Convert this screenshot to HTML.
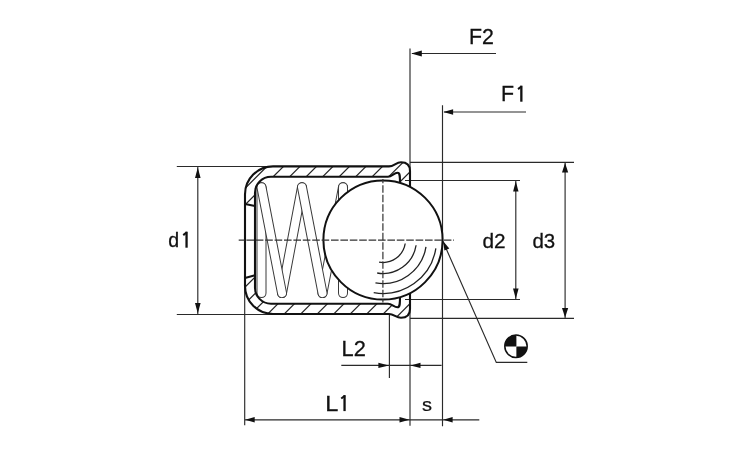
<!DOCTYPE html>
<html><head><meta charset="utf-8"><style>
html,body{margin:0;padding:0;background:#fff;}
svg{display:block;}
text{will-change:transform;}
text{font-family:"Liberation Sans",sans-serif;font-size:100px;fill:#111;stroke:#111;stroke-width:1.3px;}
</style></head><body>
<svg width="750" height="450" viewBox="0 0 750 450">
<defs>
<clipPath id="ct"><path d="M245,204 L245,194.4 A28,28 0 0 1 273,166.4 L389,166.4 C394,166.4 396,162.2 401,162.2 Q410,162.2 410,171 L410,187 A59.6,59.6 0 0 0 400,183 C400,176 400,172.8 397.5,172.8 C394,172.8 392,176.7 388,176.7 L271,176.7 A16,16 0 0 0 255,192.7 L255,206 Z"/></clipPath>
<clipPath id="cb"><path d="M245,278 L245,286 A28,28 0 0 0 273,314 L389,314 C394,314 396,317.8 401,317.8 Q410,317.8 410,309 L410,293 A59.6,59.6 0 0 1 400,297 C400,304 400,307.2 397.5,307.2 C394,307.2 392,303.7 388,303.7 L271,303.7 A16,16 0 0 1 255,287.3 L255,275.3 Z"/></clipPath>
</defs>
<rect width="750" height="450" fill="#fff"/>
<g stroke="#2a2a2a" stroke-width="1.15" fill="none">
<line x1="410.0" y1="48.6" x2="410.0" y2="171"/>
<line x1="410.0" y1="309" x2="410.0" y2="425.8"/>
<line x1="442.5" y1="105.3" x2="442.5" y2="426.2"/>
<line x1="412" y1="53.5" x2="496" y2="53.5"/>
<line x1="444" y1="112.0" x2="526" y2="112.0"/>
<line x1="176.8" y1="166.5" x2="272" y2="166.5"/>
<line x1="176.8" y1="314.5" x2="389.4" y2="314.5"/>
<line x1="197.8" y1="167" x2="197.8" y2="314"/>
<line x1="410" y1="162.4" x2="574" y2="162.4"/>
<line x1="410" y1="318.4" x2="574" y2="318.4"/>
<line x1="565.1" y1="163" x2="565.1" y2="318"/>
<line x1="405" y1="180.5" x2="520" y2="180.5"/>
<line x1="405" y1="299.5" x2="520" y2="299.5"/>
<line x1="515.8" y1="181" x2="515.8" y2="299"/>
<line x1="244.7" y1="286" x2="244.7" y2="425.3"/>
<line x1="389.4" y1="314" x2="389.4" y2="378"/>
<line x1="341.3" y1="365.4" x2="441.6" y2="365.4"/>
<line x1="245" y1="419.8" x2="479.3" y2="419.8"/>
<polyline points="442.9,241.3 496.3,362.4 527.3,362.4"/>
</g>
<g fill="#111" stroke="none"><path d="M411.2,53.5 L421.80,56.40 L421.80,50.60 Z"/><path d="M443.3,112.0 L453.10,114.70 L453.10,109.30 Z"/><path d="M197.8,167.5 L195.00,178.00 L200.60,178.00 Z"/><path d="M197.8,313.5 L200.60,303.00 L195.00,303.00 Z"/><path d="M515.8,181.3 L513.10,191.60 L518.50,191.60 Z"/><path d="M515.8,298.8 L518.60,288.50 L513.00,288.50 Z"/><path d="M565.1,163.0 L562.00,172.60 L568.20,172.60 Z"/><path d="M565.1,317.6 L568.20,308.00 L562.00,308.00 Z"/><path d="M388.9,365.4 L378.40,362.70 L378.40,368.10 Z"/><path d="M410.5,365.4 L420.50,368.10 L420.50,362.70 Z"/><path d="M245.2,419.8 L254.70,422.60 L254.70,417.00 Z"/><path d="M409.5,419.8 L399.50,417.00 L399.50,422.60 Z"/><path d="M443.3,419.8 L452.60,422.60 L452.60,417.00 Z"/><path d="M443.2,241.3 L444.36,250.62 L449.30,248.45 Z"/></g>
<g stroke="#222" stroke-width="1.2">
<g clip-path="url(#ct)"><line x1="93.40" y1="340" x2="293.40" y2="140"/><line x1="109.90" y1="340" x2="309.90" y2="140"/><line x1="126.40" y1="340" x2="326.40" y2="140"/><line x1="142.90" y1="340" x2="342.90" y2="140"/><line x1="159.40" y1="340" x2="359.40" y2="140"/><line x1="175.90" y1="340" x2="375.90" y2="140"/><line x1="192.40" y1="340" x2="392.40" y2="140"/><line x1="208.90" y1="340" x2="408.90" y2="140"/><line x1="225.40" y1="340" x2="425.40" y2="140"/><line x1="241.90" y1="340" x2="441.90" y2="140"/><line x1="258.40" y1="340" x2="458.40" y2="140"/></g>
<g clip-path="url(#cb)"><line x1="373.70" y1="340" x2="573.70" y2="140"/><line x1="357.20" y1="340" x2="557.20" y2="140"/><line x1="340.70" y1="340" x2="540.70" y2="140"/><line x1="324.20" y1="340" x2="524.20" y2="140"/><line x1="307.70" y1="340" x2="507.70" y2="140"/><line x1="291.20" y1="340" x2="491.20" y2="140"/><line x1="274.70" y1="340" x2="474.70" y2="140"/><line x1="258.20" y1="340" x2="458.20" y2="140"/><line x1="241.70" y1="340" x2="441.70" y2="140"/><line x1="225.20" y1="340" x2="425.20" y2="140"/><line x1="208.70" y1="340" x2="408.70" y2="140"/><line x1="192.20" y1="340" x2="392.20" y2="140"/><line x1="175.70" y1="340" x2="375.70" y2="140"/></g>
</g>
<path d="M261.5,187.2 L261.5,293.1" stroke="#3a3a3a" stroke-width="10.0" stroke-linecap="round" fill="none"/><path d="M261.5,187.2 L261.5,293.1" stroke="#fff" stroke-width="8" stroke-linecap="round" fill="none"/><path d="M282,293.1 L302,187.2" stroke="#3a3a3a" stroke-width="10.0" stroke-linecap="round" fill="none"/><path d="M282,293.1 L302,187.2" stroke="#fff" stroke-width="8" stroke-linecap="round" fill="none"/><path d="M261.5,187.2 L282,293.1" stroke="#3a3a3a" stroke-width="10.0" stroke-linecap="round" fill="none"/><path d="M261.5,187.2 L282,293.1" stroke="#fff" stroke-width="8" stroke-linecap="round" fill="none"/><path d="M322.5,293.1 L343,187.2" stroke="#3a3a3a" stroke-width="10.0" stroke-linecap="round" fill="none"/><path d="M322.5,293.1 L343,187.2" stroke="#fff" stroke-width="8" stroke-linecap="round" fill="none"/><path d="M302,187.2 L322.5,293.1" stroke="#3a3a3a" stroke-width="10.0" stroke-linecap="round" fill="none"/><path d="M302,187.2 L322.5,293.1" stroke="#fff" stroke-width="8" stroke-linecap="round" fill="none"/><path d="M343,187.2 L343,293.1" stroke="#3a3a3a" stroke-width="10.0" stroke-linecap="round" fill="none"/><path d="M343,187.2 L343,293.1" stroke="#fff" stroke-width="8" stroke-linecap="round" fill="none"/>
<circle cx="383" cy="240" r="59.6" fill="#fff" stroke="#111" stroke-width="2.0"/>
<g stroke="#222" stroke-width="1.3" fill="none"><path d="M405.22,243.52 A22.5,22.5 0 0 1 379.09,262.16"/><path d="M416.09,245.24 A33.5,33.5 0 0 1 377.18,272.99"/><path d="M425.96,246.80 A43.5,43.5 0 0 1 375.45,282.84"/><path d="M435.84,248.37 A53.5,53.5 0 0 1 373.71,292.69"/></g>
<g stroke="#111" stroke-width="2.1" fill="none" stroke-linejoin="round">
<path d="M410,187 L410,171 Q410,162.2 401,162.2 C396,162.2 394,166.4 389,166.4 L273,166.4 A28,28 0 0 0 245,194.4 L245,286 A28,28 0 0 0 273,314 L389,314 C394,314 396,317.8 401,317.8 Q410,317.8 410,309 L410,293"/>
<path d="M400,183 C400,176 400,172.8 397.5,172.8 C394,172.8 392,176.7 388,176.7 L271,176.7 A16,16 0 0 0 255,192.7 L255,287.3 A16,16 0 0 0 271,303.7 L388,303.7 C392,303.7 394,307.2 397.5,307.2 C400,307.2 400,304 400,297"/>
<line x1="245" y1="204" x2="255" y2="206"/>
<line x1="245" y1="278" x2="255" y2="275.3"/>
</g>
<g stroke="#333" stroke-width="1.2" fill="none">
<line x1="238.7" y1="240.2" x2="454" y2="240.2" stroke-dasharray="7.6 1.8" stroke-dashoffset="1.7"/>
<line x1="382.9" y1="179" x2="382.9" y2="302.6" stroke-dasharray="7.4 2.1" stroke-dashoffset="3.2"/>
</g>
<g>
<circle cx="516" cy="346.3" r="11.2" fill="#fff" stroke="#111" stroke-width="1.5"/>
<path d="M516.4,346.6 L504.8,346.6 A11.2,11.2 0 0 1 516.4,335.1 Z" fill="#111"/>
<path d="M516.4,346.6 L527.2,346.6 A11.2,11.2 0 0 1 516.4,357.5 Z" fill="#111"/>
</g>
<text transform="translate(468.99,43.78) scale(0.2135,0.2181)">F2</text><text transform="translate(501.09,101.47) scale(0.2140,0.2254)">F</text><path d="M521.35,85.70 L521.35,101.70" stroke="#111" stroke-width="2.3" fill="none"/><path d="M521.65,86.30 L518.05,89.10" stroke="#111" stroke-width="2" fill="none"/><text transform="translate(168.32,247.19) scale(0.1957,0.2059)">d</text><path d="M186.55,231.70 L186.55,247.70" stroke="#111" stroke-width="2.3" fill="none"/><path d="M186.85,232.30 L183.25,235.10" stroke="#111" stroke-width="2" fill="none"/><text transform="translate(482.47,248.49) scale(0.2078,0.2059)">d2</text><text transform="translate(532.48,248.27) scale(0.2049,0.2057)">d3</text><text transform="translate(341.55,356.28) scale(0.2182,0.2181)">L2</text><text transform="translate(325.22,410.87) scale(0.2356,0.2254)">L</text><path d="M344.55,395.10 L344.55,411.10" stroke="#111" stroke-width="2.3" fill="none"/><path d="M344.85,395.70 L341.25,398.50" stroke="#111" stroke-width="2" fill="none"/><text transform="translate(421.90,411.03) scale(0.2000,0.1860)">s</text>
</svg>
</body></html>
